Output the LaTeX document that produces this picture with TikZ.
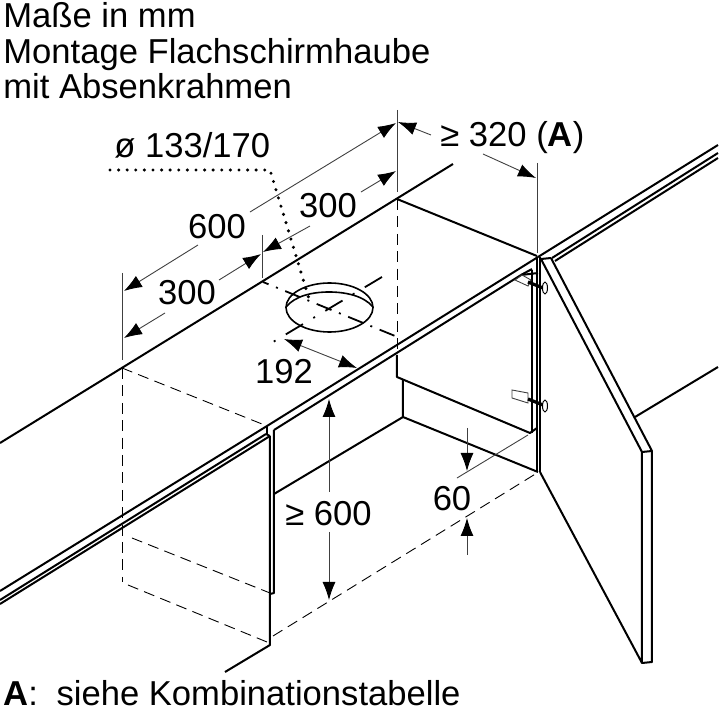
\documentclass[tikz,border=0pt]{standalone}
\usepackage{fontspec}
\setmainfont{Liberation Sans}
\usepackage{tikz}
\usetikzlibrary{arrows.meta}
\tikzset{
    body/.style={line width=1pt,black,line join=round},
    fine/.style={line width=0.45pt,black!75},
    hidden/.style={line width=0.45pt,black,dash pattern=on 5.5pt off 3.2pt},
    axisa/.style={line width=0.9pt,black,dash pattern=on 8pt off 4pt on 1pt off 4pt,dash phase=5pt},
    axisb/.style={line width=0.9pt,black,dash pattern=on 10pt off 6pt on 1pt off 6pt},
    leader/.style={line width=1.7pt,black,line cap=round,dash pattern=on 0pt off 4.3pt},
    tip/.style={fine,-{Latex[length=9pt,width=6.5pt,black]}},
    tips/.style={fine,{Latex[length=9pt,width=6.5pt,black]}-{Latex[length=9pt,width=6.5pt,black]}},
    txt/.style={inner sep=0pt,anchor=base west,font=\fontsize{17.3}{20}\selectfont},
    num/.style={inner sep=0pt,anchor=base,font=\fontsize{17.3}{20}\selectfont}
}
\begin{document}
\begin{tikzpicture}[x=0.5pt,y=-0.5pt]
        \useasboundingbox (0,0) rectangle (720,712);

        \draw[body] (0,443)--(453,164);
        \draw[body] (397,199)--(537,256);
        \draw[body] (538,257)--(267,426)--(0,591);
        \draw[body] (538,273)--(521,275);
        \draw[body] (521,275)--(274,430);
        \draw[body] (266,434)--(0,600);
        \draw[body] (270,436)--(0,604);
        \draw[body] (266,434)--(270,436);
        \draw[body] (267,426)--(267,434);

        \draw[body] (270,436)--(270,645)--(225,672);
        \draw[body] (274,430)--(274,593)--(270,594);
        \draw[body] (274,494)--(403,417);
        \draw[body] (397,355)--(397,377)--(530,433)--(537,428);
        \draw[body] (403,380)--(403,417)--(538,472);

        \draw[body] (532,270)--(532,433);
        \draw[body] (532,269)--(521,275);
        \draw[body] (537,257)--(537,472);
        \draw[body] (540,257)--(540,472);

        \draw[body] (541,259)--(642,452)--(642,663)--(540,472);
        \draw[body] (551,258)--(652,451)--(652,662)--(642,663);
        \draw[body] (642,452)--(652,451);
        \draw[body] (541,259)--(551,258);

        \draw[body] (538,257)--(718,145);
        \draw[body] (552,258)--(718,153);
        \draw[body] (555,261)--(718,158);
        \draw[body] (635,417)--(718,367);

        \draw[fine] (515,280)--(522,275)--(531,280)--(528,286)--cycle;
        \draw[fine] (512,390)--(512,398)--(528,403)--(528,393)--cycle;
        \draw[line width=1.6pt] (528,282)--(543,288);
        \draw[line width=1.6pt] (528,399)--(543,405);
        \filldraw[fill=white,line width=0.5pt] (545,288) ellipse [x radius=2.5,y radius=6];
        \filldraw[fill=white,line width=0.5pt] (545,406) ellipse [x radius=2.5,y radius=6];

        \draw[hidden] (397,199)--(397,355);
        \draw[hidden] (122,368)--(267,426);
        \draw[hidden] (122,368)--(122,582);
        \draw[hidden] (128,585)--(267,642);
        \draw[hidden] (132,538)--(270,593);
        \draw[hidden] (273,636)--(537,473);

        \draw[body,line width=0.8pt] (329.5,307.5) ellipse [x radius=43.5,y radius=24.5];
        \draw[body,line width=0.8pt] (286,307) .. controls (295,296) and (312,292) .. (329,292) .. controls (346,292) and (364,296) .. (373,307);
        \draw[axisa] (263,282)--(400,338);
        \draw[axisb] (382,277)--(268,345);
        \draw[leader] (110,170)--(270,170)--(310,302);

        \draw[fine] (397,110)--(397,192);
        \draw[fine] (122,273)--(122,360);
        \draw[fine] (262,235)--(262,278);
        \draw[fine] (537,163)--(537,253);
        \draw[fine] (457,478)--(528,435);

        \coordinate (topend) at (396,123);
        \coordinate (midend) at (396,171);
        \coordinate (gapend) at (263,252);
        \coordinate (lowend) at (261,254);
        \coordinate (leftend) at (124,291);
        \coordinate (leftlow) at (124,338);

        \draw[tip] (250,212)--(topend);
        \draw[tip] (198,245)--(leftend);
        \draw[tip] (361,192)--(midend);
        \draw[tip] (310,226)--(gapend);
        \draw[tip] (219,280)--(lowend);
        \draw[tip] (165,313)--(leftlow);
        \draw[tips] (284,339)--(357,368);
        \draw[tip] (431,135)--(398,122);
        \draw[tip] (483,154)--(536,178);
        \draw[tip] (329,492)--(329,399);
        \draw[tip] (329,532)--(329,600);
        \draw[tip] (467,428)--(467,471);
        \draw[tip] (467,555)--(467,518);

        \node[txt] (unit) at (3,27){Maße in mm};
        \node[txt] (mount) at (3,63){Montage Flachschirmhaube};
        \node[txt] (frame) at (3,98){mit Absenkrahmen};
        \node[txt] (bore) at (114,157){ø 133/170};
        \node[num] (sixhundred) at (217,239){600};
        \node[num] (upper) at (328,218){300};
        \node[num] (lower) at (187,305){300};
        \node[num] (depth) at (284,384){192};
        \node[txt] (gap) at (440,147){≥ 320 (\textbf{A})};
        \node[txt] (height) at (285,525){≥ 600};
        \node[num] (sixty) at (452,510){60};
        \node[txt] (note) at (3,706){\textbf{A}:\hspace{4.5pt} siehe Kombinationstabelle};
    \end{tikzpicture}
\end{document}
